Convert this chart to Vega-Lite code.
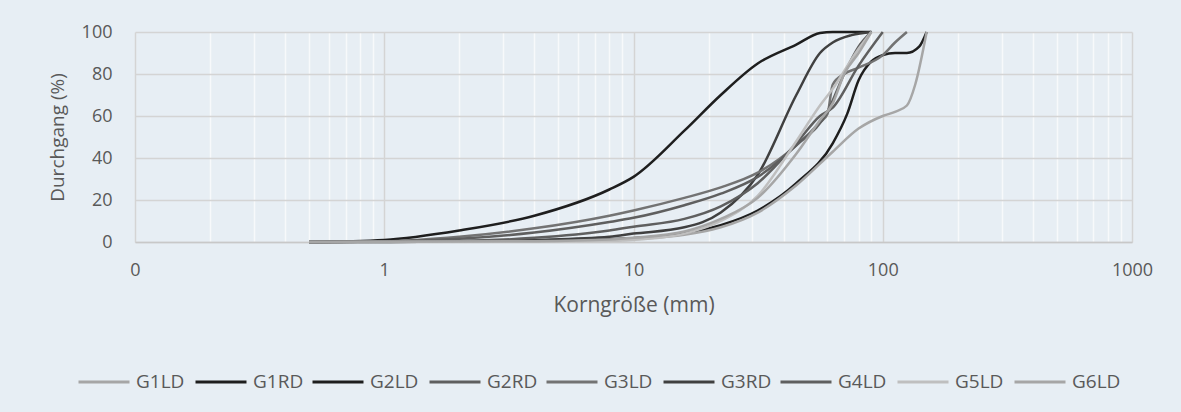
{
  "$schema": "https://vega.github.io/schema/vega-lite/v6.json",
  "autosize": {"type": "none"},
  "padding": {"left": 135, "top": 32, "right": 49, "bottom": 170},
  "width": 997,
  "height": 210,
  "background": "#e7eef4",
  "config": {
    "view": {"stroke": null},
    "font": "Open Sans"
  },
  "data": {
    "values": [
      {"series": "G1RD", "size": 0.5, "passing": 0},
      {"series": "G1RD", "size": 1, "passing": 1},
      {"series": "G1RD", "size": 2, "passing": 5.5},
      {"series": "G1RD", "size": 4, "passing": 12.5},
      {"series": "G1RD", "size": 8, "passing": 25},
      {"series": "G1RD", "size": 10, "passing": 31},
      {"series": "G1RD", "size": 16, "passing": 53},
      {"series": "G1RD", "size": 22.4, "passing": 70},
      {"series": "G1RD", "size": 31.5, "passing": 85},
      {"series": "G1RD", "size": 45, "passing": 94},
      {"series": "G1RD", "size": 56, "passing": 99.5},
      {"series": "G1RD", "size": 63, "passing": 100},
      {"series": "G1RD", "size": 90, "passing": 100},

      {"series": "G2LD", "size": 0.5, "passing": 0},
      {"series": "G2LD", "size": 1, "passing": 0},
      {"series": "G2LD", "size": 2, "passing": 0.3},
      {"series": "G2LD", "size": 4, "passing": 0.7},
      {"series": "G2LD", "size": 8, "passing": 1.3},
      {"series": "G2LD", "size": 16, "passing": 4},
      {"series": "G2LD", "size": 22.4, "passing": 8},
      {"series": "G2LD", "size": 31.5, "passing": 15},
      {"series": "G2LD", "size": 45, "passing": 28},
      {"series": "G2LD", "size": 63, "passing": 47},
      {"series": "G2LD", "size": 72, "passing": 61},
      {"series": "G2LD", "size": 80, "passing": 77},
      {"series": "G2LD", "size": 90, "passing": 86},
      {"series": "G2LD", "size": 100, "passing": 89},
      {"series": "G2LD", "size": 112, "passing": 90},
      {"series": "G2LD", "size": 125, "passing": 90},
      {"series": "G2LD", "size": 140, "passing": 93},
      {"series": "G2LD", "size": 150, "passing": 100},

      {"series": "G1LD", "size": 0.5, "passing": 0},
      {"series": "G1LD", "size": 2, "passing": 0.2},
      {"series": "G1LD", "size": 4, "passing": 0.5},
      {"series": "G1LD", "size": 8, "passing": 1},
      {"series": "G1LD", "size": 16, "passing": 3.5},
      {"series": "G1LD", "size": 22.4, "passing": 7},
      {"series": "G1LD", "size": 31.5, "passing": 14},
      {"series": "G1LD", "size": 45, "passing": 27},
      {"series": "G1LD", "size": 63, "passing": 43},
      {"series": "G1LD", "size": 80, "passing": 54},
      {"series": "G1LD", "size": 100, "passing": 60},
      {"series": "G1LD", "size": 112, "passing": 62},
      {"series": "G1LD", "size": 125, "passing": 65},
      {"series": "G1LD", "size": 135, "passing": 75},
      {"series": "G1LD", "size": 150, "passing": 100},

      {"series": "G3RD", "size": 0.5, "passing": 0},
      {"series": "G3RD", "size": 2, "passing": 0.3},
      {"series": "G3RD", "size": 4, "passing": 1},
      {"series": "G3RD", "size": 8, "passing": 2.5},
      {"series": "G3RD", "size": 10, "passing": 4},
      {"series": "G3RD", "size": 16, "passing": 7},
      {"series": "G3RD", "size": 22.4, "passing": 14},
      {"series": "G3RD", "size": 31.5, "passing": 32},
      {"series": "G3RD", "size": 45, "passing": 70},
      {"series": "G3RD", "size": 56, "passing": 90},
      {"series": "G3RD", "size": 63, "passing": 95},
      {"series": "G3RD", "size": 75, "passing": 98.5},
      {"series": "G3RD", "size": 90, "passing": 100},

      {"series": "G3LD", "size": 0.5, "passing": 0},
      {"series": "G3LD", "size": 1, "passing": 0.3},
      {"series": "G3LD", "size": 2, "passing": 2.5},
      {"series": "G3LD", "size": 4, "passing": 6.5},
      {"series": "G3LD", "size": 8, "passing": 12.5},
      {"series": "G3LD", "size": 10, "passing": 15},
      {"series": "G3LD", "size": 16, "passing": 21},
      {"series": "G3LD", "size": 22.4, "passing": 26},
      {"series": "G3LD", "size": 31.5, "passing": 33},
      {"series": "G3LD", "size": 45, "passing": 46},
      {"series": "G3LD", "size": 56, "passing": 57},
      {"series": "G3LD", "size": 60, "passing": 61},
      {"series": "G3LD", "size": 63, "passing": 75},
      {"series": "G3LD", "size": 70, "passing": 80},
      {"series": "G3LD", "size": 80, "passing": 83},
      {"series": "G3LD", "size": 100, "passing": 89},
      {"series": "G3LD", "size": 112, "passing": 95},
      {"series": "G3LD", "size": 125, "passing": 100},

      {"series": "G2RD", "size": 0.5, "passing": 0},
      {"series": "G2RD", "size": 1, "passing": 0.2},
      {"series": "G2RD", "size": 2, "passing": 1.5},
      {"series": "G2RD", "size": 4, "passing": 4.5},
      {"series": "G2RD", "size": 8, "passing": 9.5},
      {"series": "G2RD", "size": 10, "passing": 11.5},
      {"series": "G2RD", "size": 16, "passing": 17.5},
      {"series": "G2RD", "size": 22.4, "passing": 23},
      {"series": "G2RD", "size": 31.5, "passing": 31},
      {"series": "G2RD", "size": 45, "passing": 46},
      {"series": "G2RD", "size": 60, "passing": 62},
      {"series": "G2RD", "size": 70, "passing": 80},
      {"series": "G2RD", "size": 80, "passing": 93},
      {"series": "G2RD", "size": 90, "passing": 100},

      {"series": "G4LD", "size": 0.5, "passing": 0},
      {"series": "G4LD", "size": 2, "passing": 0.5},
      {"series": "G4LD", "size": 4, "passing": 2},
      {"series": "G4LD", "size": 8, "passing": 5.5},
      {"series": "G4LD", "size": 10, "passing": 7.3},
      {"series": "G4LD", "size": 16, "passing": 11},
      {"series": "G4LD", "size": 22.4, "passing": 17},
      {"series": "G4LD", "size": 31.5, "passing": 28},
      {"series": "G4LD", "size": 45, "passing": 47},
      {"series": "G4LD", "size": 56, "passing": 60},
      {"series": "G4LD", "size": 63, "passing": 64},
      {"series": "G4LD", "size": 80, "passing": 84},
      {"series": "G4LD", "size": 100, "passing": 100},

      {"series": "G5LD", "size": 0.5, "passing": 0},
      {"series": "G5LD", "size": 4, "passing": 0.2},
      {"series": "G5LD", "size": 8, "passing": 0.6},
      {"series": "G5LD", "size": 10, "passing": 1},
      {"series": "G5LD", "size": 16, "passing": 4},
      {"series": "G5LD", "size": 22.4, "passing": 10},
      {"series": "G5LD", "size": 31.5, "passing": 22},
      {"series": "G5LD", "size": 45, "passing": 48},
      {"series": "G5LD", "size": 56, "passing": 65},
      {"series": "G5LD", "size": 63, "passing": 73},
      {"series": "G5LD", "size": 80, "passing": 92},
      {"series": "G5LD", "size": 90, "passing": 100},

      {"series": "G6LD", "size": 0.5, "passing": 0},
      {"series": "G6LD", "size": 4, "passing": 0.4},
      {"series": "G6LD", "size": 8, "passing": 1.2},
      {"series": "G6LD", "size": 10, "passing": 2},
      {"series": "G6LD", "size": 16, "passing": 5},
      {"series": "G6LD", "size": 22.4, "passing": 11},
      {"series": "G6LD", "size": 31.5, "passing": 21},
      {"series": "G6LD", "size": 45, "passing": 42},
      {"series": "G6LD", "size": 56, "passing": 58},
      {"series": "G6LD", "size": 63, "passing": 66},
      {"series": "G6LD", "size": 70, "passing": 80},
      {"series": "G6LD", "size": 80, "passing": 90},
      {"series": "G6LD", "size": 90, "passing": 100}
    ]
  },
  "mark": {"type": "line", "interpolate": "monotone", "strokeWidth": 2.5},
  "encoding": {
    "x": {
      "field": "size",
      "type": "quantitative",
      "scale": {"type": "log", "domain": [0.1, 1000], "nice": false},
      "axis": {
        "title": "Korngröße (mm)",
        "values": [0.1,0.2,0.3,0.4,0.5,0.6,0.7,0.8,0.9,1,2,3,4,5,6,7,8,9,10,20,30,40,50,60,70,80,90,100,200,300,400,500,600,700,800,900,1000],
        "labelExpr": "datum.value == 0.1 ? '0' : (indexof([1,10,100,1000], datum.value) >= 0 ? format(datum.value, 'd') : '')",
        "labelOverlap": false,
        "labelBound": false,
        "labelFlush": false,
        "ticks": false,
        "labelPadding": 28,
        "labelBaseline": "middle",
        "labelFontSize": 18,
        "labelColor": "#595959",
        "domainColor": "#c8c8c8",
        "domainWidth": 1.5,
        "grid": true,
        "gridWidth": 1.5,
        "gridColor": {
          "condition": {"test": "indexof([0.1,1,10,100,1000], datum.value) >= 0", "value": "#d4d4d4"},
          "value": "#f7f9fb"
        },
        "titleFontSize": 21,
        "titleFontWeight": "normal",
        "titleColor": "#595959",
        "titleBaseline": "middle",
        "titleY": 63,
        "titleX": 498.5
      }
    },
    "y": {
      "field": "passing",
      "type": "quantitative",
      "scale": {"domain": [0, 100], "nice": false},
      "axis": {
        "title": "Durchgang (%)",
        "values": [0, 20, 40, 60, 80, 100],
        "ticks": false,
        "domain": false,
        "labelPadding": 23,
        "labelFontSize": 18,
        "labelColor": "#595959",
        "gridColor": "#d4d4d4",
        "gridWidth": 1.5,
        "titleFontSize": 19,
        "titleFontWeight": "normal",
        "titleColor": "#595959",
        "titleAngle": -90,
        "titleBaseline": "middle",
        "titleAlign": "center",
        "titleX": -78,
        "titleY": 105
      }
    },
    "color": {
      "field": "series",
      "type": "nominal",
      "scale": {
        "domain": ["G1LD", "G1RD", "G2LD", "G2RD", "G3LD", "G3RD", "G4LD", "G5LD", "G6LD"],
        "range": ["#a6a6a6", "#1e1e1e", "#1e1e1e", "#5f5f5f", "#737373", "#404040", "#5f5f5f", "#bfbfbf", "#a6a6a6"]
      },
      "legend": {
        "title": null,
        "orient": "none",
        "legendX": -58,
        "legendY": 323,
        "direction": "horizontal",
        "columns": 9,
        "gridAlign": "all",
        "symbolType": "stroke",
        "symbolSize": 2600,
        "symbolStrokeWidth": 3,
        "labelOffset": 5,
        "columnPadding": 2,
        "labelFontSize": 19,
        "labelColor": "#595959"
      }
    }
  }
}
